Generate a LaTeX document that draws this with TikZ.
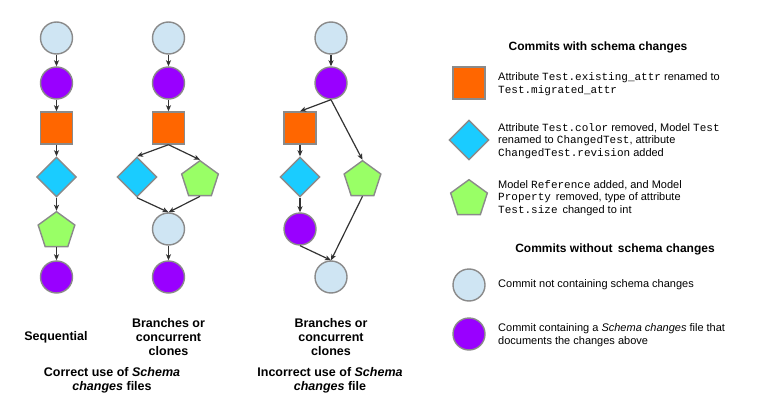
\documentclass[tikz,border=0pt]{standalone}
\usepackage{fontspec}
\setmainfont{Liberation Sans}
\setmonofont{Liberation Mono}
\usetikzlibrary{shapes.geometric,arrows.meta}
\definecolor{bordergray}{HTML}{8A8A8A}
\definecolor{lightc}{HTML}{CFE5F3}
\definecolor{purp}{HTML}{9900FF}
\definecolor{orng}{HTML}{FF6600}
\definecolor{bluec}{HTML}{1ACCFF}
\definecolor{grn}{HTML}{99FF66}
\definecolor{arrowc}{HTML}{333333}
\tikzset{
  shp/.style={draw=bordergray, line width=1.4pt, inner sep=0pt},
  lcirc/.style={shp, circle, minimum size=32pt, fill=lightc},
  pcirc/.style={shp, circle, minimum size=32pt, fill=purp},
  osq/.style={shp, rectangle, minimum size=32pt, fill=orng},
  bdia/.style={shp, diamond, minimum size=40pt, fill=bluec},
  gpen/.style={shp, regular polygon, regular polygon sides=5, minimum size=38.6pt, fill=grn},
  arr/.style={-{Stealth[length=6pt,width=5pt,inset=1.5pt]}, line width=1.2pt, draw=arrowc},
  lbl/.style={align=center, font=\bfseries\fontsize{12.5}{14}\selectfont, inner sep=0pt},
  hdr/.style={font=\bfseries\fontsize{12}{14}\selectfont, inner sep=0pt},
  ltxt/.style={anchor=west, align=left, font=\fontsize{11}{12.8}\selectfont, inner sep=0pt}
}
\begin{document}
\begin{tikzpicture}[x=1pt,y=-1pt]
\useasboundingbox (0,0) rectangle (763,404);
% Column 1: sequential
\node[lcirc] (a1) at (56.5,38) {};
\node[pcirc] (a2) at (56.5,83) {};
\node[osq]   (a3) at (56.5,128) {};
\node[bdia]  (a4) at (56.5,177) {};
\node[gpen]  (a5) at (56.5,231) {};
\node[pcirc] (a6) at (56.5,277) {};
\draw[arr] (a1) -- (a2);
\draw[arr] (a2) -- (a3);
\draw[arr] (a3) -- (a4);
\draw[arr] (a4) -- (a5);
\draw[arr] (a5) -- (a6);
% Column 2: correct branches
\node[lcirc] (b1) at (168.5,38) {};
\node[pcirc] (b2) at (168.5,83) {};
\node[osq]   (b3) at (168.5,128) {};
\node[bdia]  (b4) at (137,177) {};
\node[gpen]  (b5) at (200,180) {};
\node[lcirc] (b6) at (168.5,229) {};
\node[pcirc] (b7) at (168.5,277) {};
\draw[arr] (b1) -- (b2);
\draw[arr] (b2) -- (b3);
\draw[arr] (b3.south) -- (b4.north);
\draw[arr] (b3.south) -- (b5.north);
\draw[arr] (b4.south) -- (b6.north);
\draw[arr] (b5.south) -- (b6.north);
\draw[arr] (b6) -- (b7);
% Column 3: incorrect branches
\node[lcirc] (c1) at (331,38) {};
\node[pcirc] (c2) at (331,83) {};
\node[osq]   (c3) at (300,128) {};
\node[bdia]  (c4) at (300,177) {};
\node[gpen]  (c5) at (362.5,180) {};
\node[pcirc] (c6) at (300,229) {};
\node[lcirc] (c7) at (331,277) {};
\draw[arr] (c1) -- (c2);
\draw[arr] (c2.south) -- (c3.north);
\draw[arr] (c2.south) -- (c5.north);
\draw[arr] (c3) -- (c4);
\draw[arr] (c4) -- (c6);
\draw[arr] (c6.south) -- (c7.north);
\draw[arr] (c5.south) -- (c7.north);
% Labels
\node[lbl] (l1) at (56,337) {Sequential};
\node[lbl] (l2) at (168.5,337) {Branches or\\concurrent\\clones};
\node[lbl] (l3) at (331,337) {Branches or\\concurrent\\clones};
\node[lbl] (l4) at (112,380) {Correct use of \textit{Schema}\\\textit{changes} files};
\node[lbl] (l5) at (330,380) {Incorrect use of \textit{Schema}\\\textit{changes} file};
% Legend
\node[hdr] (h1) at (598,47) {Commits with schema changes};
\node[osq]   (k1) at (469,83) {};
\node[bdia]  (k2) at (469,140) {};
\node[gpen]  (k3) at (469,199) {};
\node[ltxt] (t1) at (498,84) {Attribute \texttt{Test.existing\_attr} renamed to\\\texttt{Test.migrated\_attr}};
\node[ltxt] (t2) at (498,141) {Attribute \texttt{Test.color} removed, Model \texttt{Test}\\renamed to \texttt{ChangedTest}, attribute\\\texttt{ChangedTest.revision} added};
\node[ltxt] (t3) at (498,198) {Model \texttt{Reference} added, and Model\\\texttt{Property}\, removed, type of attribute\\\texttt{Test.size}\, changed to int};
\node[hdr] (h2) at (615,249) {Commits without\, schema changes};
\node[lcirc] (k4) at (469,285) {};
\node[pcirc] (k5) at (469,334) {};
\node[ltxt] (t4) at (498,285) {Commit not containing schema changes};
\node[ltxt] (t5) at (498,335) {Commit containing a \textit{Schema changes} file that\\documents the changes above};
\end{tikzpicture}
\end{document}
